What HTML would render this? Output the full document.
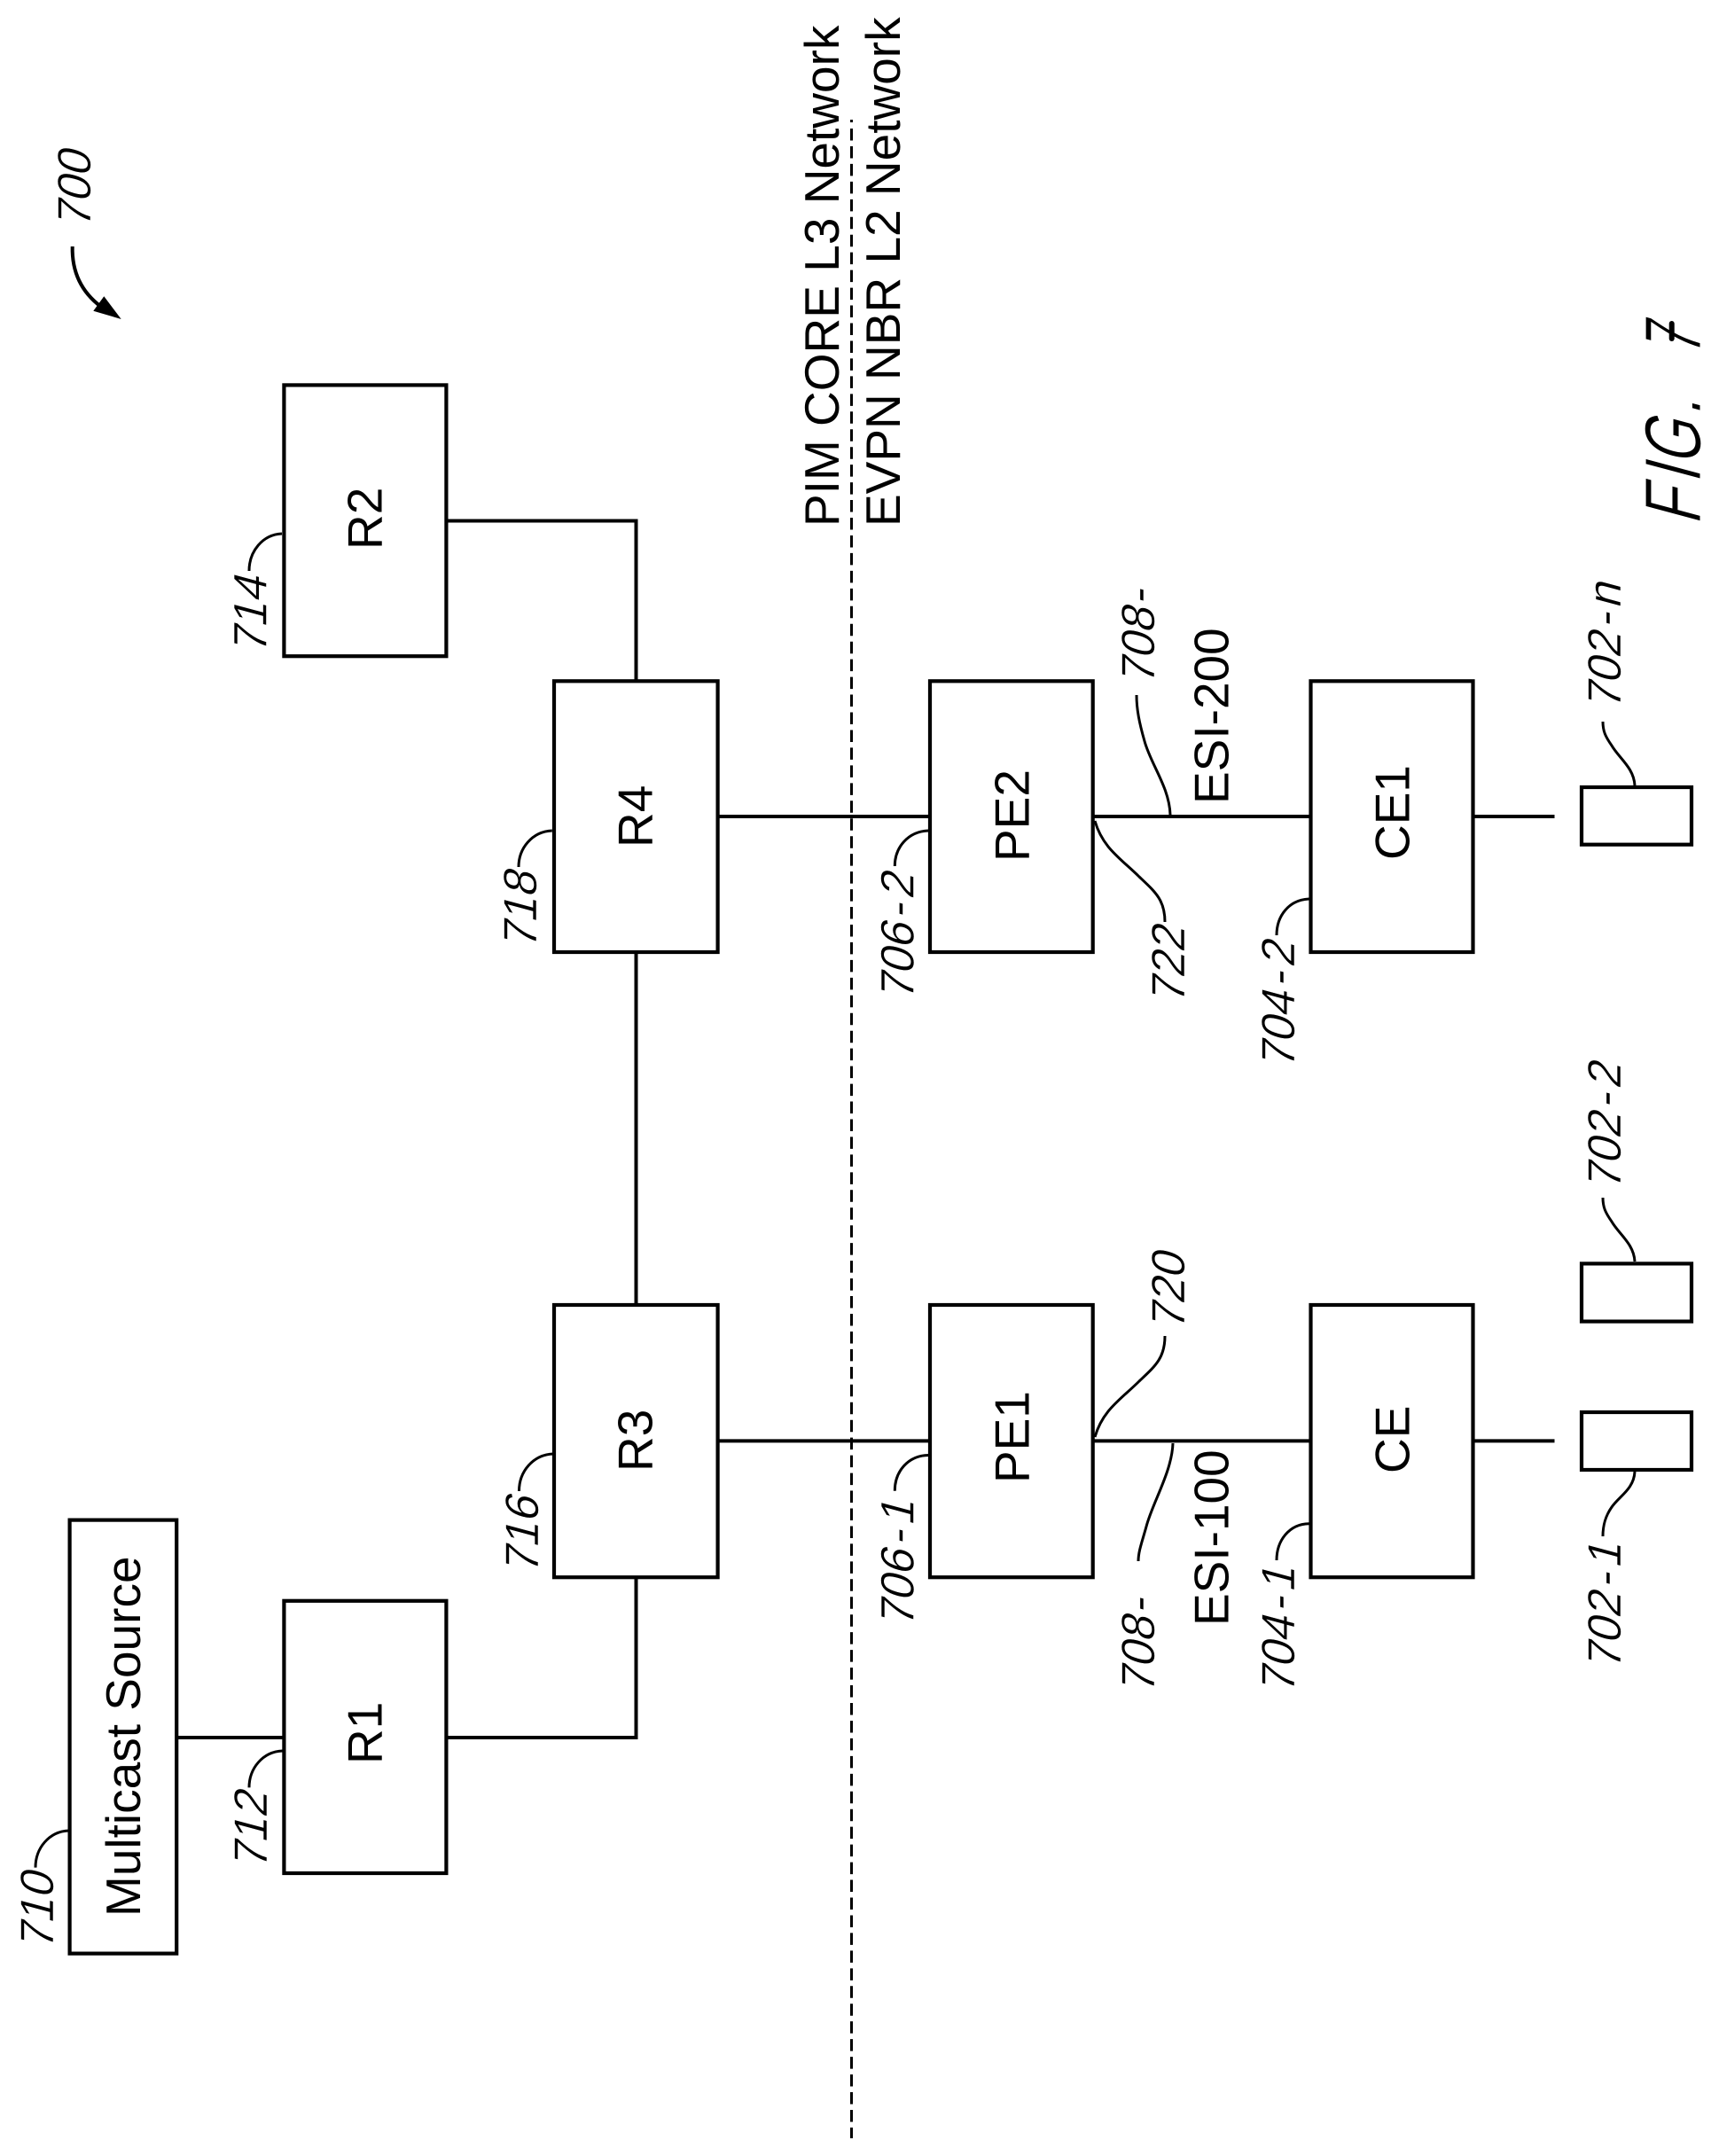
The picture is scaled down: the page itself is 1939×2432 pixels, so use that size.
<!DOCTYPE html>
<html lang="en">
<head>
<meta charset="utf-8">
<title>FIG. 7</title>
<style>
html,body{margin:0;padding:0;background:#fff;}
svg{display:block;}
.b{fill:#fff;stroke:#000;stroke-width:4.2;stroke-linejoin:miter;}
.l{fill:none;stroke:#000;stroke-width:4;}
.k{fill:none;stroke:#000;stroke-width:3;}
text{font-family:"Liberation Sans",Arial,sans-serif;fill:#000;}
.t{font-size:55px;}
.i{font-size:53px;stroke:#fff;stroke-width:.5;}
.f{font-size:90px;stroke:#fff;stroke-width:1;}
</style>
</head>
<body>
<svg width="1939" height="2432" viewBox="0 0 1939 2432" xmlns="http://www.w3.org/2000/svg">
<rect width="1939" height="2432" fill="#fff"/>

<!-- dashed divider -->
<line x1="960.5" y1="145" x2="960.5" y2="2412" stroke="#000" stroke-width="3" stroke-dasharray="13.5 6.455"/>
<line x1="960.5" y1="135" x2="960.5" y2="138" stroke="#000" stroke-width="3"/>

<!-- connectors -->
<path class="l" d="M199 1960H320M503 1960H717.5V1779"/>
<path class="l" d="M503 587.5H717.5V768"/>
<path class="l" d="M717.5 1074V1472"/>
<path class="l" d="M810 921H1049M1233 921H1478M1661 921H1753.5"/>
<path class="l" d="M810 1625.4H1049M1233 1625.4H1478M1661 1625.4H1753.5"/>

<!-- boxes -->
<rect class="b" x="78.6" y="1714.6" width="120.6" height="489"/>
<rect class="b" x="320.4" y="1805.8" width="183" height="307.2"/>
<rect class="b" x="320.4" y="434.4" width="183" height="305.8"/>
<rect class="b" x="625" y="768.3" width="184.6" height="305.7"/>
<rect class="b" x="625" y="1472" width="184.6" height="307.2"/>
<rect class="b" x="1049" y="768.3" width="183.7" height="305.7"/>
<rect class="b" x="1049" y="1472" width="183.7" height="307.2"/>
<rect class="b" x="1478.5" y="768.3" width="183" height="305.7"/>
<rect class="b" x="1478.5" y="1472" width="183" height="307.2"/>
<rect class="b" x="1784" y="888" width="124" height="64.7"/>
<rect class="b" x="1784" y="1425.4" width="124" height="65.2"/>
<rect class="b" x="1784" y="1593" width="124" height="65"/>

<!-- box labels -->
<text class="t" transform="translate(158,2162) rotate(-90)">Multicast Source</text>
<text class="t" transform="translate(430.5,1990) rotate(-90)">R1</text>
<text class="t" transform="translate(430.5,620) rotate(-90)">R2</text>
<text class="t" transform="translate(735.5,1660) rotate(-90)">R3</text>
<text class="t" transform="translate(735.5,956) rotate(-90)">R4</text>
<text class="t" transform="translate(1160.5,1673) rotate(-90)">PE1</text>
<text class="t" transform="translate(1160.5,972) rotate(-90)">PE2</text>
<text class="t" transform="translate(1589.5,1662) rotate(-90)">CE</text>
<text class="t" transform="translate(1589.5,970) rotate(-90)">CE1</text>
<text class="t" transform="translate(1385.5,1834) rotate(-90)">ESI-100</text>
<text class="t" transform="translate(1385.5,907) rotate(-90)">ESI-200</text>
<text class="t" transform="translate(946,594) rotate(-90)">PIM CORE L3 Network</text>
<text class="t" transform="translate(1015,594) rotate(-90)">EVPN NBR L2 Network</text>

<!-- leaders -->
<path class="k" d="M77.5 2065C55 2066 40 2085 40 2106.6"/>
<path class="k" d="M318.6 1975C296 1976 281 1995 281 2016.4"/>
<path class="k" d="M318 602C296 603 281 622 281 644"/>
<path class="k" d="M624 1640C601 1641 585.5 1660 585.5 1682"/>
<path class="k" d="M622.8 937C600 938 585 957 585 978"/>
<path class="k" d="M1047 1641.5C1024 1642 1009.3 1660 1009.3 1681.7"/>
<path class="k" d="M1047 937C1024 938 1009.3 956 1009.3 977"/>
<path class="k" d="M1476.5 1718.7C1454 1719 1440 1738 1440 1760"/>
<path class="k" d="M1476.5 1014C1454 1015 1440 1033 1440 1055"/>
<path class="k" d="M1235 1621C1244 1590 1265 1578 1285 1558C1303 1541 1314 1532 1314 1507"/>
<path class="k" d="M1235 926C1244 957 1265 969 1285 989C1303 1006 1314 1015 1314 1040"/>
<path class="k" d="M1323 1628C1322 1660 1300 1695 1293 1722C1288 1740 1284 1750 1284 1761"/>
<path class="k" d="M1320 919C1319 888 1298 862 1291 836C1285 815 1282 800 1282 784"/>
<path class="k" d="M1844 1660C1843 1680 1826 1688 1818 1700C1811 1710 1808 1720 1808 1733"/>
<path class="k" d="M1844 1423C1843 1403 1826 1392 1818 1378C1811 1368 1808 1362 1808 1351"/>
<path class="k" d="M1844 886C1843 866 1826 855 1818 841C1811 831 1808 825 1808 814"/>

<!-- 700 arrow -->
<path class="l" d="M81.7 278C81 304 90 328 114 346"/>
<polygon points="136.7,360 117.3,334.3 105.3,350.7" fill="#000"/>

<!-- reference numerals -->
<text class="i" transform="translate(102,258) rotate(-90) skewX(-15) scale(.98,1)">700</text>
<text class="i" transform="translate(60,2200) rotate(-90) skewX(-15) scale(.98,1)">710</text>
<text class="i" transform="translate(301,2109) rotate(-90) skewX(-15) scale(.98,1)">712</text>
<text class="i" transform="translate(300.4,738) rotate(-90) skewX(-15) scale(.98,1)">714</text>
<text class="i" transform="translate(607,1776) rotate(-90) skewX(-15) scale(.98,1)">716</text>
<text class="i" transform="translate(605,1071) rotate(-90) skewX(-15) scale(.98,1)">718</text>
<text class="i" transform="translate(1336,1501) rotate(-90) skewX(-15) scale(.98,1)">720</text>
<text class="i" transform="translate(1336,1133) rotate(-90) skewX(-15) scale(.98,1)">722</text>
<text class="i" transform="translate(1302,1911) rotate(-90) skewX(-15) scale(.98,1)">708<tspan dx="3">-</tspan></text>
<text class="i" transform="translate(1302,773) rotate(-90) skewX(-15) scale(.98,1)">708<tspan dx="3">-</tspan></text>
<text class="i" transform="translate(1030.5,1836) rotate(-90) skewX(-15) scale(.98,1)">706<tspan dx="5">-</tspan><tspan dx="5">1</tspan></text>
<text class="i" transform="translate(1030.5,1129) rotate(-90) skewX(-15) scale(.98,1)">706<tspan dx="5">-</tspan><tspan dx="5">2</tspan></text>
<text class="i" transform="translate(1460,1911) rotate(-90) skewX(-15) scale(.98,1)">704<tspan dx="5">-</tspan><tspan dx="5">1</tspan></text>
<text class="i" transform="translate(1460,1206) rotate(-90) skewX(-15) scale(.98,1)">704<tspan dx="5">-</tspan><tspan dx="5">2</tspan></text>
<text class="i" transform="translate(1828,1884) rotate(-90) skewX(-15) scale(.98,1)">702<tspan dx="5">-</tspan><tspan dx="5">1</tspan></text>
<text class="i" transform="translate(1828,1343) rotate(-90) skewX(-15) scale(.98,1)">702<tspan dx="5">-</tspan><tspan dx="5">2</tspan></text>
<text class="i" transform="translate(1828,801) rotate(-90) skewX(-15) scale(.98,1)">702<tspan dx="5">-</tspan><tspan dx="5">n</tspan></text>

<!-- figure caption -->
<text class="f" transform="translate(1918,593) rotate(-90) skewX(-15) scale(.72,1)">F</text>
<text class="f" transform="translate(1918,546) rotate(-90) skewX(-15) scale(.72,1)">I</text>
<text class="f" transform="translate(1918,526) rotate(-90) skewX(-15) scale(.72,1)">G</text>
<text class="f" transform="translate(1918,469) rotate(-90) skewX(-15) scale(.72,1)">.</text>
<text class="f" transform="translate(1918,402) rotate(-90) skewX(-15) scale(.62,1)">7</text>
<path d="M1885.7 365V382" stroke="#000" stroke-width="6" stroke-linecap="round" fill="none"/>
</svg>
</body>
</html>
